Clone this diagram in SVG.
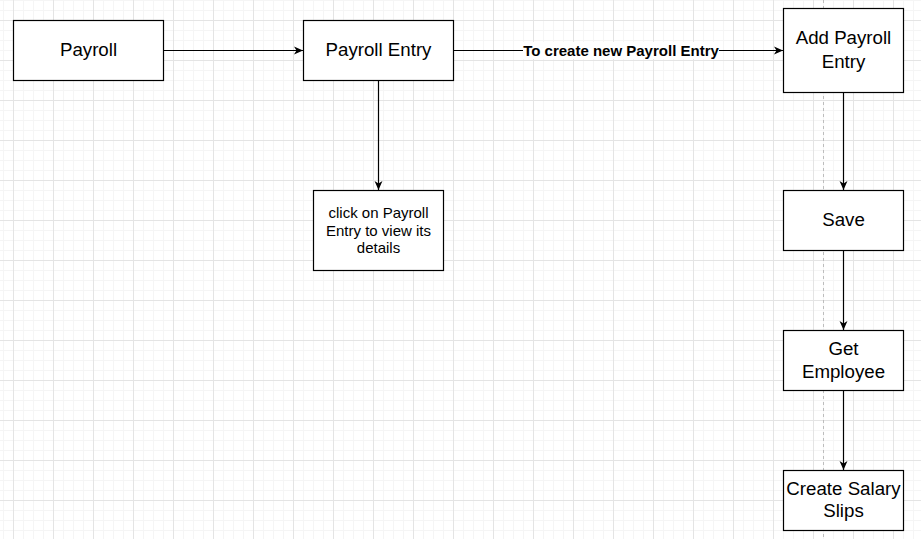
<svg xmlns="http://www.w3.org/2000/svg" width="921" height="539" viewBox="0 0 921 539">
<style>
.box{fill:#fff;stroke:#000;stroke-width:1.2}
.t{font-family:"Liberation Sans",Arial,sans-serif;font-size:18.7px;fill:#000;text-anchor:middle}
.s{font-family:"Liberation Sans",Arial,sans-serif;font-size:15px;fill:#000;text-anchor:middle}
.lbl{font-family:"Liberation Sans",Arial,sans-serif;font-size:15px;font-weight:bold;fill:#000;text-anchor:middle}
.edge{fill:none;stroke:#000;stroke-width:1.2}
</style>
<defs>
<pattern id="grid" patternUnits="userSpaceOnUse" x="13" y="20" width="40" height="40">
<path d="M10.5 0V40M20.5 0V40M30.5 0V40M0 10.5H40M0 20.5H40M0 30.5H40" stroke="#f5f5f5" stroke-width="1" fill="none"/>
<path d="M0.5 0V40M0 0.5H40" stroke="#e4e4e4" stroke-width="1" fill="none"/>
</pattern>
<marker id="arr" viewBox="0 0 8 8" refX="8" refY="4" markerWidth="9" markerHeight="9" markerUnits="userSpaceOnUse" orient="auto">
<path d="M8,4 L0,0.5 L2.2,4 L0,7.5 Z" fill="#000"/>
</marker>
</defs>
<rect x="0" y="0" width="921" height="539" fill="#fff"/>
<rect x="0" y="0" width="921" height="539" fill="url(#grid)"/>
<line x1="823.5" y1="0" x2="823.5" y2="539" stroke="#bdbdbd" stroke-width="1" stroke-dasharray="3 3"/>
<g id="connectors">
<path class="edge" d="M163.5 50.5H303" marker-end="url(#arr)"/>
<path class="edge" d="M453.5 50.5H783" marker-end="url(#arr)"/>
<path class="edge" d="M378.5 80.5V190" marker-end="url(#arr)"/>
<path class="edge" d="M843.5 92.5V190" marker-end="url(#arr)"/>
<path class="edge" d="M843.5 250.5V330" marker-end="url(#arr)"/>
<path class="edge" d="M843.5 390.5V470" marker-end="url(#arr)"/>
<rect x="523" y="42" width="196" height="17" fill="#fff"/>
<text class="lbl" x="621" y="55.5">To create new Payroll Entry</text>
</g>
<g id="payroll">
<rect class="box" x="13.5" y="20.5" width="150" height="60"/>
<text class="t" x="88.5" y="55.8">Payroll</text>
</g>
<g id="payroll-entry">
<rect class="box" x="303.5" y="20.5" width="150" height="60"/>
<text class="t" x="378.5" y="55.8">Payroll Entry</text>
</g>
<g id="click-details">
<rect class="box" x="313.5" y="190.5" width="130" height="80"/>
<text class="s" x="378.5" y="218">click on Payroll</text>
<text class="s" x="378.5" y="235.5">Entry to view its</text>
<text class="s" x="378.5" y="253">details</text>
</g>
<g id="add-payroll-entry">
<rect class="box" x="783.5" y="8.5" width="120" height="84"/>
<text class="t" x="843.5" y="44.3">Add Payroll</text>
<text class="t" x="843.5" y="67.6">Entry</text>
</g>
<g id="save">
<rect class="box" x="783.5" y="190.5" width="120" height="60"/>
<text class="t" x="843.5" y="225.8">Save</text>
</g>
<g id="get-employee">
<rect class="box" x="783.5" y="330.5" width="120" height="60"/>
<text class="t" x="843.5" y="355">Get</text>
<text class="t" x="843.5" y="377.8">Employee</text>
</g>
<g id="create-salary-slips">
<rect class="box" x="783.5" y="470.5" width="120" height="60"/>
<text class="t" x="843.5" y="495">Create Salary</text>
<text class="t" x="843.5" y="517.3">Slips</text>
</g>
</svg>
